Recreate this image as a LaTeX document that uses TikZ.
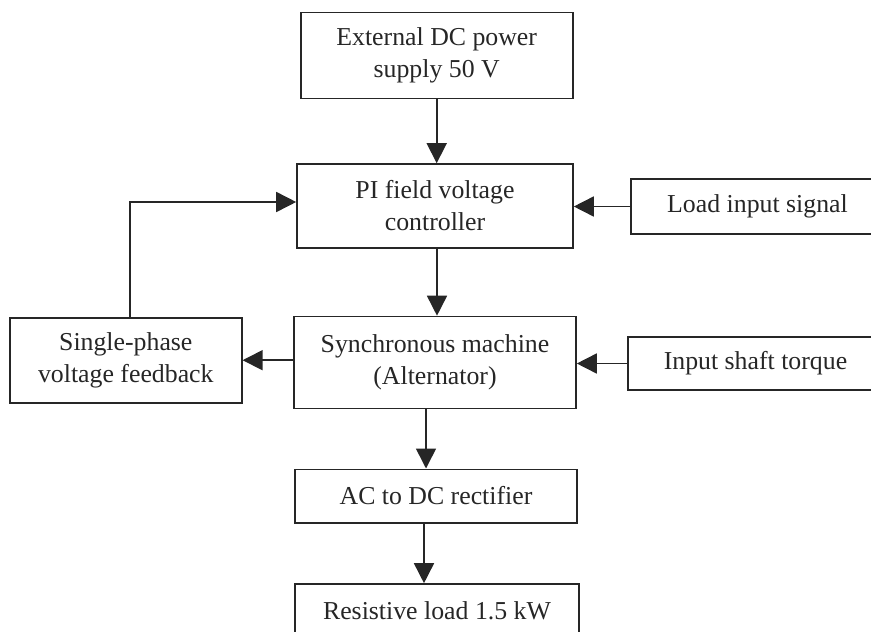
\documentclass[tikz,border=0pt]{standalone}
\usepackage{fontspec}
\setmainfont{Liberation Serif}
\usetikzlibrary{arrows.meta}
\definecolor{ink}{HTML}{262626}
\begin{document}
\begin{tikzpicture}[x=1pt,y=-1pt,
  blk/.style={draw=ink, line width=1.6pt, text=ink, align=center, inner sep=0pt,
    font=\fontsize{25.8}{32}\selectfont},
  arr/.style={draw=ink, line width=1.6pt, -{Triangle[length=20pt,width=20pt]}},
  ln/.style={draw=ink, line width=1.6pt}]
\useasboundingbox (0,0) rectangle (871,632);
\clip (0,0) rectangle (871,632);
\node[blk, minimum width=272pt, minimum height=86pt] (ext) at (436.7,55.5) {External DC power\\supply 50 V};
\node[blk, minimum width=276pt, minimum height=84pt] (pi) at (435,206) {PI field voltage\\controller};
\node[blk, minimum width=253pt, minimum height=55pt] (lis) at (757.5,206.5) {Load input signal};
\node[blk, minimum width=232pt, minimum height=85pt] (fb) at (125.8,360.2) {Single-phase\\voltage feedback};
\node[blk, minimum width=282pt, minimum height=92pt] (sync) at (435,362.5) {Synchronous machine\\(Alternator)};
\node[blk, minimum width=255pt, minimum height=53pt] (ist) at (755.5,363.5) {Input shaft torque};
\node[blk, minimum width=282pt, minimum height=53.4pt] (rect) at (436,496) {AC to DC rectifier};
\node[blk, minimum width=284pt, minimum height=54pt] (res) at (437,611) {Resistive load 1.5 kW};
\draw[arr] (ext.south) -- (ext.south |- pi.north);
\draw[arr] ([xshift=2pt]pi.south) -- ([xshift=2pt]pi.south |- sync.north);
\draw[arr] (lis.west) -- (lis.west -| pi.east);
\draw[arr] (ist.west) -- (ist.west -| sync.east);
\draw[arr] (sync.west |- fb.east) -- (fb.east);
\draw[arr] ([xshift=4pt]fb.north) |- ([yshift=4pt]pi.west);
\draw[arr] ([xshift=-9pt]sync.south) -- ([xshift=-9pt]sync.south |- rect.north);
\draw[arr] ([xshift=-12pt]rect.south) -- ([xshift=-12pt]rect.south |- res.north);
\end{tikzpicture}
\end{document}
